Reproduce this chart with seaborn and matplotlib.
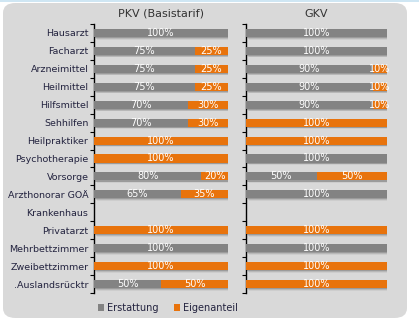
import numpy as np
import pandas as pd
import seaborn as sns
import matplotlib
matplotlib.use("Agg")
import matplotlib.pyplot as plt
from matplotlib.patches import FancyBboxPatch, Rectangle, Patch

categories = ["Hausarzt", "Facharzt", "Arzneimittel", "Heilmittel", "Hilfsmittel",
              "Sehhilfen", "Heilpraktiker", "Psychotherapie", "Vorsorge",
              "Arzthonorar GOÄ", "Krankenhaus", "Privatarzt", "Mehrbettzimmer",
              "Zweibettzimmer", ".Auslandsrücktr"]
pkv_erstattung = [100, 75, 75, 75, 70, 70, 0, 0, 80, 65, 0, 0, 100, 0, 50]
pkv_eigenanteil = [0, 25, 25, 25, 30, 30, 100, 100, 20, 35, 0, 100, 0, 100, 50]
gkv_erstattung = [100, 100, 90, 90, 90, 0, 0, 100, 50, 100, 0, 0, 100, 0, 0]
gkv_eigenanteil = [0, 0, 10, 10, 10, 100, 100, 0, 50, 0, 0, 100, 0, 100, 100]
panel_titles = ["PKV (Basistarif)", "GKV"]
legend_labels = ["Erstattung", "Eigenanteil"]

GRAY = "#838383"
ORANGE = "#e8730c"
PANEL = "#d9d9d9"
LABEL_COLOR = "#23233f"

sns.set_theme(style="white")
plt.rcParams["font.family"] = ["DejaVu Sans"]

W, H = 419, 329
fig = plt.figure(figsize=(W / 100, H / 100), dpi=100)
fig.patch.set_facecolor("white")

# panel background
bg = FancyBboxPatch((3 / W, 11 / H), 404 / W, 315 / H,
                    boxstyle="round,pad=0,rounding_size=0.03",
                    transform=fig.transFigure, facecolor=PANEL,
                    edgecolor="none", zorder=-5)
fig.patches.append(bg)
fig.patches.append(Rectangle((0, 1 - 2 / H), 1, 2 / H, transform=fig.transFigure,
                             facecolor="#cfe6f3", edgecolor="none", zorder=-5))

ax_top, ax_bot = 24, 293
axL = fig.add_axes([94 / W, 1 - ax_bot / H, 134 / W, (ax_bot - ax_top) / H])
axR = fig.add_axes([246 / W, 1 - ax_bot / H, 141 / W, (ax_bot - ax_top) / H])

n = len(categories)
bar_h = 0.45

def draw(ax, erst, eig, title, show_labels):
    ax.set_facecolor("none")
    df = pd.DataFrame({"cat": categories,
                       "erst": erst,
                       "total": np.array(erst) + np.array(eig)})
    sns.barplot(data=df, y="cat", x="total", order=categories, color=ORANGE,
                saturation=1, width=bar_h, ax=ax, zorder=3,
                edgecolor="none", linewidth=0)
    n_orange = len(ax.patches)
    sns.barplot(data=df, y="cat", x="erst", order=categories, color=GRAY,
                saturation=1, width=bar_h, ax=ax, zorder=4,
                edgecolor="none", linewidth=0)
    # soft shadows derived from the drawn bars
    for p in list(ax.patches[:n_orange]):
        if p.get_width() <= 0:
            continue
        for k, a in [(0, 0.45), (1, 0.25), (2, 0.12)]:
            ax.add_patch(Rectangle((p.get_x() + 0.8 + k * 0.6,
                                    p.get_y() + 0.06 + k * 0.04),
                                   p.get_width(), p.get_height(),
                                   facecolor="#7a7a7a", alpha=a, edgecolor="none",
                                   zorder=2))
    for i, (e, o) in enumerate(zip(erst, eig)):
        if e > 0:
            ax.text(e / 2, i, f"{e}%", color="white", ha="center", va="center",
                    fontsize=7, zorder=6)
        if o > 0:
            ax.text(e + o / 2, i, f"{o}%", color="white", ha="center", va="center",
                    fontsize=7, zorder=6)
    ax.set_xlim(0, 100)
    ax.set_ylim(n - 0.5, -0.5)
    ax.set_xlabel("")
    ax.set_ylabel("")
    for s in ["top", "right", "bottom"]:
        ax.spines[s].set_visible(False)
    ax.spines["left"].set_color("black")
    ax.spines["left"].set_linewidth(1.0)
    ax.set_xticks([])
    ax.set_yticks(range(n))
    ax.set_yticks(np.arange(-0.5, n, 1.0), minor=True)
    ax.tick_params(axis="y", which="major", length=0, pad=4)
    ax.tick_params(axis="y", which="minor", length=3, width=0.8, color="black",
                   direction="out", left=True)
    if show_labels:
        ax.set_yticklabels(categories, fontsize=6.8, color=LABEL_COLOR)
    else:
        ax.set_yticklabels([])
    fig.text((ax.get_position().x0 + ax.get_position().x1) / 2, 1 - 14 / H, title,
             ha="center", va="center", fontsize=8, color="#333333")

draw(axL, pkv_erstattung, pkv_eigenanteil, panel_titles[0], True)
draw(axR, gkv_erstattung, gkv_eigenanteil, panel_titles[1], False)

handles = [Patch(facecolor=GRAY, edgecolor="none"),
           Patch(facecolor=ORANGE, edgecolor="none")]
leg = fig.legend(handles, legend_labels, loc="center", bbox_to_anchor=(168 / W, 1 - 308 / H),
                 ncol=2, frameon=False, fontsize=7, handlelength=0.6, handleheight=0.6,
                 handletextpad=0.3, columnspacing=1.6)
for t in leg.get_texts():
    t.set_color(LABEL_COLOR)

fig.savefig("out.png", dpi=100, facecolor="white")
